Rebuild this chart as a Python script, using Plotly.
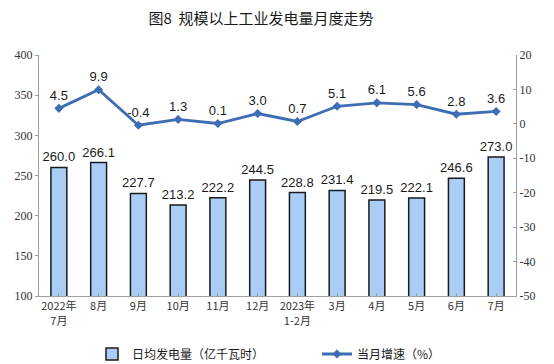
import plotly.graph_objects as go

categories = ["2022年<br>7月", "8月", "9月", "10月", "11月", "12月", "2023年<br>1-2月",
              "3月", "4月", "5月", "6月", "7月"]
daily_output = [260.0, 266.1, 227.7, 213.2, 222.2, 244.5, 228.8, 231.4, 219.5, 222.1, 246.6, 273.0]
growth = [4.5, 9.9, -0.4, 1.3, 0.1, 3.0, 0.7, 5.1, 6.1, 5.6, 2.8, 3.6]
left_ticks = [100, 150, 200, 250, 300, 350, 400]
right_ticks = [-50, -40, -30, -20, -10, 0, 10, 20]

x = list(range(len(categories)))

fig = go.Figure()
fig.add_trace(go.Bar(
    x=x, y=daily_output, name="日均发电量（亿千瓦时）",
    marker=dict(color="#A9CDF5", line=dict(color="#1A1A1A", width=1.5)),
    width=0.4,
    text=[f"{v:.1f}" for v in daily_output], textposition="outside",
    constraintext="none",
    textfont=dict(family="Liberation Sans, Arial", size=13, color="#1A1A1A"),
    cliponaxis=False,
))
fig.add_trace(go.Scatter(
    x=x, y=growth, name="当月增速（%）", yaxis="y2",
    mode="lines+markers+text",
    line=dict(color="#3E6DB5", width=2.8),
    marker=dict(symbol="diamond", size=7, color="#3E6DB5"),
    text=[f"{v:.1f}" for v in growth], textposition="top center",
    textfont=dict(family="Liberation Sans, Arial", size=13, color="#1A1A1A"),
    cliponaxis=False,
))

fig.update_layout(
    width=554, height=364,
    margin=dict(l=39, r=38, t=55, b=58),
    paper_bgcolor="white", plot_bgcolor="white",
    title=dict(text="图8  规模以上工业发电量月度走势", x=0.471, xanchor="center", y=0.948, yanchor="middle",
               font=dict(family="Noto Sans CJK SC", size=15, color="#1A1A1A")),
    xaxis=dict(
        tickmode="array", tickvals=x, ticktext=categories,
        range=[-0.5, 11.5], showline=True, linecolor="#A0A0A0", linewidth=1,
        ticks="inside", tickson="boundaries", ticklen=3, tickcolor="#A0A0A0",
        tickfont=dict(family="Noto Sans CJK SC", size=11, color="#333333"),
        showgrid=False,
    ),
    yaxis=dict(
        range=[100, 400], tickmode="array", tickvals=left_ticks, ticktext=[str(v) for v in left_ticks],
        showline=True, linecolor="#A0A0A0", linewidth=1,
        ticks="outside", ticklen=3, tickcolor="#A0A0A0", showgrid=False, zeroline=False,
        tickfont=dict(family="Liberation Serif", size=12, color="#333333"),
    ),
    yaxis2=dict(
        range=[-50, 20], tickmode="array", tickvals=right_ticks, ticktext=[str(v) for v in right_ticks],
        overlaying="y", side="right", showline=True,
        linecolor="#A0A0A0", linewidth=1, ticks="inside", ticklen=3, tickcolor="#A0A0A0",
        showgrid=False, zeroline=False,
        tickfont=dict(family="Liberation Serif", size=12, color="#333333"),
    ),
    legend=dict(orientation="h", xref="container", yref="container",
                x=92 / 554, xanchor="left", y=10 / 364, yanchor="middle",
                font=dict(family="Noto Sans CJK SC", size=12, color="#1A1A1A"),
                itemwidth=30, entrywidthmode="pixels", entrywidth=180),
    showlegend=True,
)

fig.write_html("out.html", config={"displayModeBar": False},
               post_script="document.body.style.margin='0';document.body.style.overflow='hidden';")
